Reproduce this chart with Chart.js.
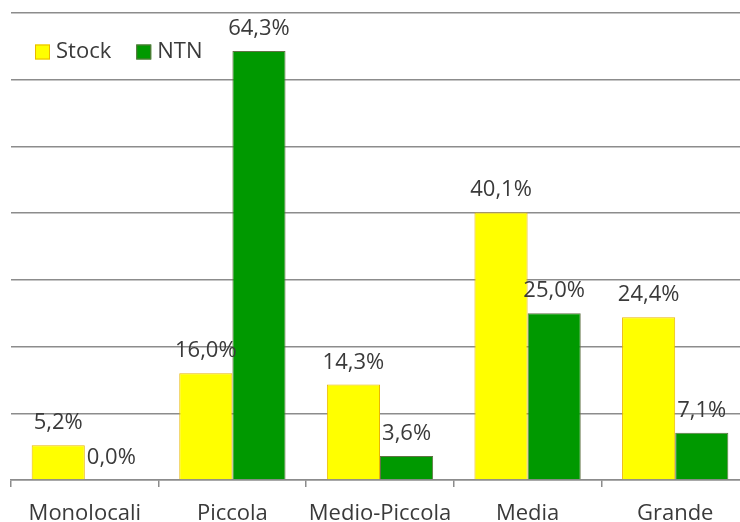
<!DOCTYPE html>
<html lang="it">
<head>
    <meta charset="UTF-8">
    <title>Stock vs NTN per dimensione</title>
    <script src="https://cdn.jsdelivr.net/npm/chart.js"></script>
    <style>
        body {
            margin: 0;
            background-color: #ffffff;
        }
        /* the plot runs a little past the right edge, as in the exported sheet */
        .frame {
            width: 740px;
            height: 522px;
            overflow: hidden;
        }
        .chart-box {
            position: relative;
            width: 760px;
            height: 522px;
        }
    </style>
</head>
<body>
    <div class="frame">
        <div class="chart-box">
            <canvas id="size-chart"></canvas>
        </div>
    </div>

    <script>
        const categories = ['Monolocali', 'Piccola', 'Medio-Piccola', 'Media', 'Grande'];
        const stockValues = [5.2, 16.0, 14.3, 40.1, 24.4];
        const ntnValues = [0.0, 64.3, 3.6, 25.0, 7.1];
        const seriesNames = ['Stock', 'NTN'];

        const textFont = { family: "'Open Sans', sans-serif", size: 22 };
        const textColor = '#3a3a3a';

        // Percent labels above each bar, Italian decimal comma
        const valueLabels = {
            id: 'valueLabels',
            afterDatasetsDraw(chart) {
                const ctx = chart.ctx;
                ctx.save();
                ctx.font = `${textFont.size}px ${textFont.family}`;
                ctx.fillStyle = textColor;
                ctx.textAlign = 'center';
                ctx.textBaseline = 'alphabetic';
                chart.data.datasets.forEach((ds, i) => {
                    chart.getDatasetMeta(i).data.forEach((bar, j) => {
                        const txt = ds.data[j].toFixed(1).replace('.', ',') + '%';
                        ctx.fillText(txt, bar.x, bar.y - 16);
                    });
                });
                ctx.restore();
            }
        };

        // Legend drawn inside the plot, top left
        const innerLegend = {
            id: 'innerLegend',
            afterDraw(chart) {
                const ctx = chart.ctx;
                let x = chart.chartArea.left + 24;
                const y = 52;
                ctx.save();
                ctx.font = `${textFont.size}px ${textFont.family}`;
                ctx.textBaseline = 'middle';
                chart.data.datasets.forEach(ds => {
                    ctx.fillStyle = ds.backgroundColor;
                    ctx.strokeStyle = ds.borderColor;
                    ctx.lineWidth = 1;
                    ctx.fillRect(x, y - 7.5, 15, 15);
                    ctx.strokeRect(x + 0.5, y - 7, 14, 14);
                    ctx.fillStyle = textColor;
                    ctx.fillText(ds.label, x + 21, y);
                    x += 21 + ctx.measureText(ds.label).width + 25;
                });
                ctx.restore();
            }
        };

        const ctx = document.getElementById('size-chart').getContext('2d');
        new Chart(ctx, {
            type: 'bar',
            data: {
                labels: categories,
                datasets: [{
                    label: seriesNames[0],
                    data: stockValues,
                    backgroundColor: '#ffff00',
                    borderColor: '#eab700',
                    borderWidth: 1
                }, {
                    label: seriesNames[1],
                    data: ntnValues,
                    backgroundColor: '#009900',
                    borderColor: '#627245',
                    borderWidth: 1
                }]
            },
            options: {
                responsive: true,
                maintainAspectRatio: false,
                animation: false,
                datasets: {
                    bar: {
                        categoryPercentage: 0.72,
                        barPercentage: 1.0
                    }
                },
                layout: {
                    padding: { left: 11, right: 11, top: 13, bottom: 0 }
                },
                plugins: {
                    legend: { display: false },
                    tooltip: { enabled: false }
                },
                scales: {
                    x: {
                        grid: {
                            offset: true,
                            drawOnChartArea: false,
                            drawTicks: true,
                            tickLength: 7,
                            color: '#8c8c8c',
                            lineWidth: 1.5
                        },
                        border: { color: '#8c8c8c', width: 1.5 },
                        ticks: {
                            font: textFont,
                            color: textColor,
                            padding: 14,
                            maxRotation: 0
                        },
                        afterFit: scale => { scale.height = 42; }
                    },
                    y: {
                        min: 0,
                        max: 70,
                        ticks: { display: false, stepSize: 10 },
                        grid: {
                            color: '#8c8c8c',
                            lineWidth: 1.5,
                            drawTicks: false
                        },
                        border: { display: false },
                        afterFit: scale => { scale.width = 0; }
                    }
                }
            },
            plugins: [valueLabels, innerLegend]
        });
    </script>
</body>
</html>
